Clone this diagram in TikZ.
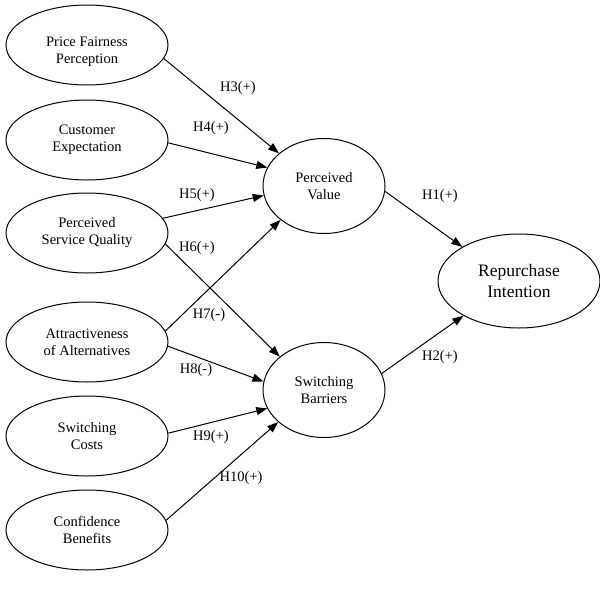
\documentclass[tikz,border=0pt]{standalone}
\usepackage{fontspec}
\setmainfont{Liberation Serif}
\usetikzlibrary{shapes.geometric,arrows.meta}
\begin{document}
\begin{tikzpicture}[x=1pt,y=-1pt,
 var/.style={ellipse,draw,line width=1pt,minimum width=162pt,minimum height=80pt,inner sep=0pt,align=center,font=\fontsize{14.5}{17}\selectfont},
 mid/.style={var,minimum width=122pt,minimum height=95pt},
 big/.style={var,minimum width=162pt,minimum height=94pt,font=\fontsize{17.5}{20.5}\selectfont},
 arr/.style={line width=1pt,-{Triangle[length=11pt,width=8pt]}},
 lab/.style={font=\fontsize{14.5}{17}\selectfont,inner sep=0pt},
 txt/.style={align=center,inner sep=0pt,font=\fontsize{14.5}{17}\selectfont}]
\fill[white] (0,0) rectangle (600,600);
\useasboundingbox (0,0) rectangle (600,600);

\node[var] (pfp) at (87,45) {};
\node[txt] (pfpt) at (87,52) {Price Fairness\\Perception};
\node[var] (ce)  at (87,140) {Customer\\Expectation};
\node[var] (psq) at (87,233) {Perceived\\Service Quality};
\node[var] (aa)  at (87,342) {Attractiveness\\of Alternatives};
\node[var] (sc)  at (87,436) {Switching\\Costs};
\node[var] (cb)  at (87,530) {Confidence\\Benefits};

\node[mid] (pv) at (324,186) {Perceived\\Value};
\node[mid] (sb) at (324,390) {Switching\\Barriers};
\node[big] (ri) at (519,281) {Repurchase\\Intention};

\draw[arr] (pfp.-10) -- (pv.144.5);
\draw[arr] (ce.-2) -- (pv.162);
\draw[arr] (psq.11) -- (pv.189);
\draw[arr] (psq.-8.5) -- (sb.143);
\draw[arr] (aa.8) -- (pv.218.5);
\draw[arr] (aa.-3.5) -- (sb.172.6);
\draw[arr] (sc.2) -- (sb.198);
\draw[arr] (cb.7) -- (sb.215.5);
\draw[arr] (pv.-5) -- (ri.149);
\draw[arr] (sb.16) -- (ri.212.5);

\node[lab] (l3) at (238,88) {H3(+)};
\node[lab] (l4) at (211,128) {H4(+)};
\node[lab] (l5) at (197,195) {H5(+)};
\node[lab] (l6) at (197,248) {H6(+)};
\node[lab] (l7) at (209,315) {H7(-)};
\node[lab] (l8) at (196,370) {H8(-)};
\node[lab] (l9) at (211,437) {H9(+)};
\node[lab] (l10) at (241,478) {H10(+)};
\node[lab] (l1) at (440,196) {H1(+)};
\node[lab] (l2) at (440,357) {H2(+)};
\end{tikzpicture}
\end{document}
